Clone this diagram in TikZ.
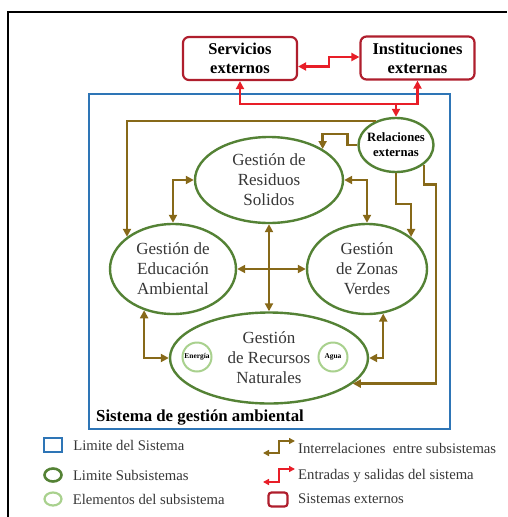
\documentclass[tikz,border=0pt]{standalone}
\usepackage{fontspec}
\setmainfont{Liberation Serif}
\usetikzlibrary{arrows.meta,positioning,shapes.geometric}

\definecolor{limiteazul}{RGB}{46,117,182}
\definecolor{verdesub}{RGB}{84,130,53}
\definecolor{verdeclaro}{RGB}{169,209,142}
\definecolor{rojoext}{RGB}{175,30,45}
\definecolor{rojoflecha}{RGB}{232,30,40}
\definecolor{cafe}{RGB}{135,105,25}
\definecolor{textogris}{RGB}{55,55,55}

\tikzset{
  subsys/.style={ellipse,draw=verdesub,line width=2.4pt,fill=white,text=textogris,
    align=center,inner sep=0pt,font=\fontsize{17}{20}\selectfont},
  elemento/.style={circle,draw=verdeclaro,line width=2pt,minimum size=29pt,
    inner sep=0pt,font=\bfseries\fontsize{7.4}{8}\selectfont},
  externo/.style={draw=rojoext,line width=2.2pt,rounded corners=6pt,fill=white,
    align=center,font=\bfseries\fontsize{16.5}{19}\selectfont,
    minimum width=114pt,minimum height=43pt},
  interrel/.style={draw=cafe,line width=2.5pt},
  ioflecha/.style={draw=rojoflecha,line width=2.2pt},
  leyenda/.style={text=textogris,inner sep=0pt,font=\fontsize{14.7}{17}\selectfont}
}

\begin{document}
\begin{tikzpicture}[x=1pt,y=-1pt,>={Triangle[length=8pt,width=8pt]}]
\useasboundingbox (0,0) rectangle (507,517);

% marco exterior
\draw[line width=1.3pt] (8,517) -- (8,12) -- (507,12);

% limite del sistema
\draw[limiteazul,line width=2.5pt] (89,94) rectangle (450,429);
\node[anchor=west,inner sep=0pt,font=\bfseries\fontsize{16.8}{20}\selectfont] (sga) at (96,418) {Sistema de gestión ambiental};

% sistemas externos
\node[externo] (serv) at (240,58.5) {Servicios\\externos};
\node[externo] (inst) at (417.5,58) {Instituciones\\externas};

% subsistemas
\node[subsys,minimum width=148pt,minimum height=86pt] (res) at (269,180) {Gestión de\\Residuos\\Solidos};
\node[subsys,minimum width=126pt,minimum height=90pt] (edu) at (173,269) {Gestión de\\Educación\\Ambiental};
\node[subsys,minimum width=120pt,minimum height=90pt] (zon) at (367,269) {Gestión\\de Zonas\\Verdes};
\node[subsys,minimum width=198pt,minimum height=91pt] (rec) at (269,358) {Gestión\\de Recursos\\Naturales};
\node[subsys,minimum width=75pt,minimum height=54pt,inner xsep=-4pt,text=black,
  font=\bfseries\fontsize{12.7}{15}\selectfont] (rel) at (396,145) {Relaciones\\externas};

% elementos
\node[elemento] (ene) at (197,357) {Energía};
\node[elemento] (agua) at (333,357) {Agua};

% entradas y salidas
\draw[ioflecha,<->] ([yshift=-8pt]serv.east) -- ++(31,0) |- ([yshift=1pt]inst.west);
\draw[ioflecha,<->] (serv.south) -- ++(0,23) -| (inst.south);
\coordinate (bus) at (396,103);
\draw[ioflecha,->] (bus) -- (rel.north);

% interrelaciones
\draw[interrel,->] (rel.130) -| (edu.145);
\draw[interrel,->] (rel.west) -- ++(-10,0) -- ++(0,-11) -| (res.30);
\draw[interrel,<->] (res.west) -| (edu.north);
\draw[interrel,<->] (res.east) -| (zon.north);
\draw[interrel,<->] (res.south) -- (rec.north);
\draw[interrel,<->] (edu.east) -- (zon.west);
\draw[interrel,<->] (edu.-125) |- (rec.west);
\draw[interrel,<->] (zon.-70) |- (rec.east);
\draw[interrel,->] (rel.south) -- ++(0,31) -| (zon.36);
\draw[interrel,->] (rel.-35) -- ++(0,20) -- ++(12,0) |- (rec.-17);

% leyenda
\node[draw=limiteazul,line width=2.2pt,minimum width=18pt,minimum height=14pt,inner sep=0pt] (lsis) at (53,445) {};
\node[leyenda,right=10pt of lsis] (tsis) {Limite del Sistema};
\node[ellipse,draw=verdesub,line width=2.6pt,minimum width=17pt,minimum height=13pt,inner sep=0pt] (lsub) at (53,475) {};
\node[leyenda,right=10pt of lsub] (tsub) {Limite Subsistemas};
\node[ellipse,draw=verdeclaro,line width=2.2pt,minimum width=17pt,minimum height=13pt,inner sep=0pt] (lele) at (53,499) {};
\node[leyenda,right=10pt of lele] (tele) {Elementos del subsistema};

\coordinate (ia) at (263,113+340);
\coordinate (ib) at (295,101+340);
\draw[interrel,line width=1.8pt,<->,>={Triangle[length=6pt,width=6pt]}] (ia) -- ++(16,0) |- (ib);
\node[leyenda,anchor=west] (tint) at (298,448) {Interrelaciones\ \ entre subsistemas};
\coordinate (ra) at (263,482);
\coordinate (rb) at (295,469);
\draw[ioflecha,line width=1.8pt,<->,>={Triangle[length=6pt,width=6pt]}] (ra) -- ++(16,0) |- (rb);
\node[leyenda,anchor=west] (tio) at (298,476) {Entradas y salidas del sistema};
\node[draw=rojoext,line width=2.2pt,rounded corners=3pt,minimum width=19pt,minimum height=14pt,inner sep=0pt] (lext) at (278,499.5) {};
\node[leyenda,anchor=west] (text) at (298,499) {Sistemas externos};
\end{tikzpicture}
\end{document}
